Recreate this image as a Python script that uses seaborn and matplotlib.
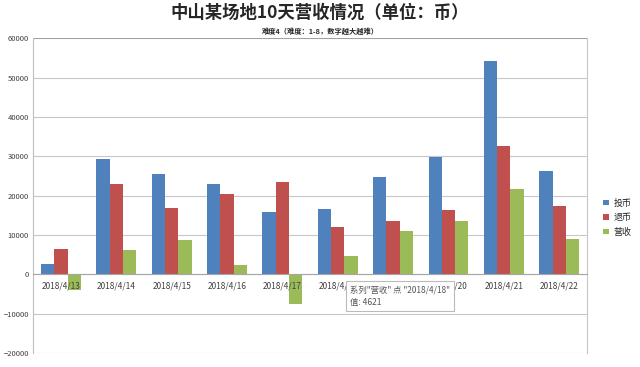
import pandas as pd
import matplotlib.pyplot as plt
import seaborn as sns

# Data
dates = ['2018/4/13', '2018/4/14', '2018/4/15', '2018/4/16', '2018/4/17',
         '2018/4/18', '2018/4/19', '2018/4/20', '2018/4/21', '2018/4/22']
coin_in = [2500, 29300, 25500, 22900, 15800, 16700, 24700, 29900, 54200, 26300]
coin_out = [6400, 23000, 16800, 20500, 23400, 12100, 13600, 16400, 32600, 17300]
revenue = [-3900, 6300, 8700, 2400, -7600, 4621, 11100, 13500, 21600, 9000]
series = ['投币', '退币', '营收']
colors = ['#4F81BD', '#C0504D', '#9BBB59']

df = pd.DataFrame({
    'date': dates * 3,
    'value': coin_in + coin_out + revenue,
    'series': [s for s in series for _ in dates],
})

sns.set_style('white')
plt.rcParams['font.family'] = ['Noto Sans CJK SC', 'DejaVu Sans']

fig = plt.figure(figsize=(6.4, 3.67), dpi=100)
ax = fig.add_axes([0.052, 0.038, 0.865, 0.858])

sns.barplot(data=df, x='date', y='value', hue='series', palette=colors,
            width=0.72, saturation=1, linewidth=0, ax=ax, legend=True)

ax.set_ylim(-20000, 60000)
ax.set_yticks(range(-20000, 60001, 10000))
ax.yaxis.grid(True, color='#c8c8c8', linewidth=0.8)
ax.xaxis.grid(False)
# gridlines behind the bars, date labels on top of them
ax.yaxis.set_zorder(0.5)
ax.xaxis.set_zorder(5)
ax.set_xlabel('')
ax.set_ylabel('')
ax.tick_params(axis='y', labelsize=5.5, colors='#404040', length=0, pad=3)
ax.tick_params(axis='x', labelsize=6, colors='#404040', length=2, pad=3)

ax.spines['top'].set_visible(False)
ax.spines['right'].set_color('#c8c8c8')
ax.spines['left'].set_color('#bfbfbf')
ax.spines['bottom'].set_position(('data', 0))
ax.spines['bottom'].set_color('#a6a6a6')
ax.axhline(60000, color='#a0a0a0', linewidth=1.4, zorder=1)

ax.legend(loc='center left', bbox_to_anchor=(1.015, 0.43), frameon=False,
          fontsize=6.5, handlelength=0.6, handleheight=0.6,
          handletextpad=0.5, labelspacing=0.6)

fig.text(0.5, 0.965, '中山某场地10天营收情况（单位：币）', ha='center', va='center',
         fontsize=12.5, fontweight='bold', color='#262626')
fig.text(0.5, 0.915, '难度4（难度：1-8，数字越大越难）', ha='center', va='center',
         fontsize=5.2, fontweight='bold', color='#262626')

# tooltip box
ax.text(5.22, -5600, '系列"营收" 点 "2018/4/18"\n值: 4621', fontsize=6,
        color='#555555', va='center', ha='left', linespacing=1.5, zorder=6,
        bbox=dict(boxstyle='square,pad=0.5', facecolor='white',
                  edgecolor='#bbbbbb', linewidth=0.8))

plt.savefig('out.png', dpi=100)
